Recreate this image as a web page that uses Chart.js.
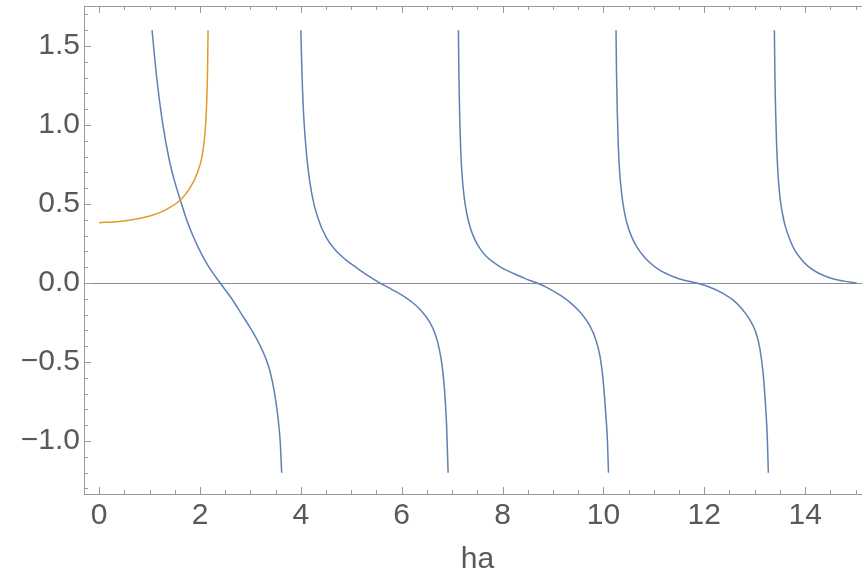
<!DOCTYPE html>
<html>
<head>
<meta charset="utf-8">
<script src="https://cdn.jsdelivr.net/npm/chart.js@4.4.0/dist/chart.umd.min.js"></script>
<style>
html, body { margin: 0; padding: 0; background: #fff; overflow: hidden; }
#wrap { width: 871px; height: 577px; }
</style>
</head>
<body>
<div id="wrap"><canvas id="plot" width="871" height="577"></canvas></div>
<script>
"use strict";

// curve samples, [ha, value]
var branch1 = [[1.05,1.60],[1.10,1.43],[1.16,1.25],[1.26,1.01],[1.39,0.78],[1.50,0.64],[1.61,0.525],[1.77,0.37],[1.95,0.235],[2.15,0.115],[2.40,0.00],[2.62,-0.095],[2.81,-0.19],[3.00,-0.285],[3.16,-0.375],[3.29,-0.465],[3.39,-0.56],[3.48,-0.70],[3.55,-0.86],[3.59,-1.00],[3.62,-1.20]];
var branch2 = [[4.00,1.60],[4.02,1.35],[4.05,1.10],[4.09,0.90],[4.14,0.73],[4.22,0.56],[4.33,0.42],[4.50,0.29],[4.68,0.21],[4.88,0.15],[5.10,0.098],[5.33,0.047],[5.57,0.00],[5.80,-0.04],[6.02,-0.08],[6.22,-0.125],[6.40,-0.18],[6.55,-0.245],[6.66,-0.32],[6.74,-0.41],[6.80,-0.52],[6.85,-0.68],[6.89,-0.90],[6.92,-1.20]];
var branch3 = [[7.125,1.60],[7.135,1.30],[7.15,1.05],[7.17,0.84],[7.20,0.67],[7.24,0.54],[7.29,0.44],[7.36,0.35],[7.45,0.275],[7.56,0.215],[7.69,0.165],[7.85,0.125],[8.02,0.09],[8.22,0.06],[8.45,0.028],[8.68,0.00],[8.92,-0.035],[9.18,-0.085],[9.40,-0.14],[9.58,-0.20],[9.73,-0.27],[9.85,-0.36],[9.93,-0.46],[9.99,-0.60],[10.04,-0.80],[10.08,-1.00],[10.10,-1.20]];
var branch4 = [[10.25,1.60],[10.26,1.32],[10.275,1.08],[10.295,0.87],[10.32,0.71],[10.36,0.57],[10.41,0.46],[10.47,0.375],[10.55,0.30],[10.65,0.235],[10.77,0.18],[10.90,0.135],[11.10,0.085],[11.39,0.04],[11.62,0.016],[11.85,0.00],[12.10,-0.025],[12.37,-0.065],[12.58,-0.11],[12.75,-0.165],[12.90,-0.23],[13.02,-0.31],[13.10,-0.41],[13.16,-0.55],[13.21,-0.75],[13.25,-0.98],[13.27,-1.20]];
var branch5 = [[13.39,1.60],[13.40,1.32],[13.415,1.08],[13.435,0.87],[13.46,0.70],[13.50,0.545],[13.55,0.44],[13.61,0.355],[13.69,0.28],[13.79,0.21],[13.91,0.155],[14.06,0.105],[14.25,0.065],[14.50,0.032],[14.77,0.012],[15.02,0.00]];
var orange = [[0.00,0.382],[0.40,0.39],[0.95,0.42],[1.30,0.46],[1.61,0.525],[1.80,0.60],[1.95,0.70],[2.04,0.80],[2.10,0.95],[2.13,1.12],[2.15,1.35],[2.16,1.60]];

var xTicks = [0, 2, 4, 6, 8, 10, 12, 14];
var yTicks = [-1.0, -0.5, 0.0, 0.5, 1.0, 1.5];
var xRange = [-0.3, 15.306];
var yRange = [-1.335, 1.753];

var blue = "#5e81b5";
var gold = "#e19c24";
var frameColor = "#9a9a9a";
var labelColor = "#595959";
var labelFont = { family: "'Liberation Sans', Arial, sans-serif", size: 30 };

function pts(arr) {
    return arr.map(function (p) { return { x: p[0], y: p[1] }; });
}

function curve(data, color, order) {
    return {
        data: pts(data),
        borderColor: color,
        borderWidth: 1.5,
        pointRadius: 0,
        fill: false,
        cubicInterpolationMode: "monotone",
        order: order,
    };
}

// inward frame ticks like the original plot
var frameTicks = {
    id: "frameTicks",
    afterDraw: function (chart) {
        var ctx = chart.ctx, a = chart.chartArea;
        var xs = chart.scales.x, ys = chart.scales.y;
        ctx.save();
        ctx.strokeStyle = frameColor;
        ctx.lineWidth = 1;
        ctx.beginPath();
        for (var i = 0; i <= 30; i++) {
            var px = Math.round(xs.getPixelForValue(i * 0.5)) + 0.5;
            var len = (i % 4 === 0) ? 7 : 4;
            ctx.moveTo(px, a.bottom); ctx.lineTo(px, a.bottom - len);
            ctx.moveTo(px, a.top); ctx.lineTo(px, a.top + len);
        }
        for (var j = -13; j <= 17; j++) {
            var py = Math.round(ys.getPixelForValue(j / 10)) + 0.5;
            var l2 = (j % 5 === 0) ? 7 : 4;
            ctx.moveTo(a.left, py); ctx.lineTo(a.left + l2, py);
        }
        ctx.stroke();
        ctx.restore();
    }
};

function noPad(s) {
    s.paddingTop = 0; s.paddingBottom = 0;
    s.paddingLeft = 0; s.paddingRight = 0;
}

var PLOT = document.getElementById("plot");
var myChart = new Chart(PLOT, {
    type: "line",
    data: {
        datasets: [
            curve(branch1, blue, 1),
            curve(branch2, blue, 1),
            curve(branch3, blue, 1),
            curve(branch4, blue, 1),
            curve(branch5, blue, 1),
            curve(orange, gold, 0),
        ],
    },
    options: {
        responsive: false,
        animation: false,
        layout: { padding: 0 },
        plugins: { legend: { display: false }, tooltip: { enabled: false } },
        scales: {
            x: {
                type: "linear",
                position: "bottom",
                min: xRange[0],
                max: xRange[1],
                afterBuildTicks: function (s) { s.ticks = xTicks.map(function (v) { return { value: v }; }); },
                afterFit: function (s) { s.height = 83; noPad(s); },
                grid: { display: false, drawTicks: false },
                border: { display: true, color: frameColor, width: 1 },
                ticks: {
                    color: labelColor,
                    font: labelFont,
                    padding: 4,
                    maxRotation: 0,
                    autoSkip: false,
                    callback: function (v) { return String(v); },
                },
                title: {
                    display: true,
                    text: "ha",
                    color: labelColor,
                    font: labelFont,
                    padding: { top: 0, bottom: -1 },
                },
            },
            xTop: {
                type: "linear",
                position: "top",
                min: xRange[0],
                max: xRange[1],
                afterFit: function (s) { s.height = 6; noPad(s); },
                grid: { display: false, drawTicks: false },
                border: { display: true, color: frameColor, width: 1 },
                ticks: { display: false },
            },
            y: {
                type: "linear",
                position: "left",
                min: yRange[0],
                max: yRange[1],
                afterBuildTicks: function (s) { s.ticks = yTicks.map(function (v) { return { value: v }; }); },
                afterFit: function (s) { s.width = 84; noPad(s); },
                grid: {
                    drawTicks: false,
                    lineWidth: 1,
                    color: function (c) { return c.tick && c.tick.value === 0 ? "#8c8c8c" : "rgba(0,0,0,0)"; },
                },
                border: { display: true, color: frameColor, width: 1 },
                ticks: {
                    color: labelColor,
                    font: labelFont,
                    padding: 4,
                    autoSkip: false,
                    callback: function (v) { return (v < 0 ? "\u2212" : "") + Math.abs(v).toFixed(1); },
                },
            },
        },
    },
    plugins: [frameTicks],
});
</script>
</body>
</html>
